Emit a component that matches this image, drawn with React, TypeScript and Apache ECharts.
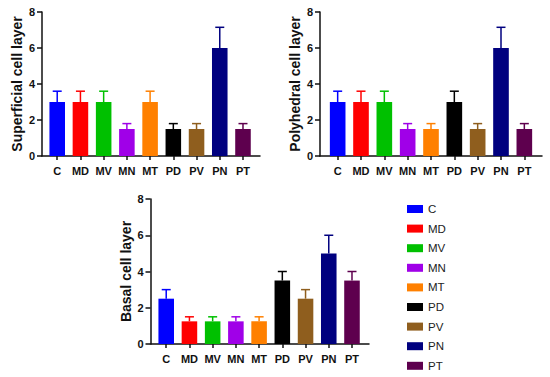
import React, { useEffect, useRef } from "react";
import * as echarts from "echarts";

const categories = ["C", "MD", "MV", "MN", "MT", "PD", "PV", "PN", "PT"];
const colors = ["#0000ff", "#ff0000", "#00c000", "#a000e8", "#ff8000", "#000000", "#8f5e1e", "#00007f", "#5e004e"];

const superficialMean = [3, 3, 3, 1.5, 3, 1.5, 1.5, 6, 1.5];
const superficialTop = [3.6, 3.6, 3.6, 1.8, 3.6, 1.8, 1.8, 7.15, 1.8];
const polyhedralMean = [3, 3, 3, 1.5, 1.5, 3, 1.5, 6, 1.5];
const polyhedralTop = [3.6, 3.6, 3.6, 1.8, 1.8, 3.6, 1.8, 7.15, 1.8];
const basalMean = [2.5, 1.25, 1.25, 1.25, 1.25, 3.5, 2.5, 5, 3.5];
const basalTop = [3.0, 1.5, 1.5, 1.5, 1.5, 4.0, 3.0, 6.0, 4.0];

const yTitles = ["Superficial cell layer", "Polyhedral cell layer", "Basal cell layer"];
const yMin = 0;
const yMax = 8;
const yInterval = 2;

const FONT = 'Arial, "Liberation Sans", Helvetica, sans-serif';

export default function App() {
  const ref = useRef<HTMLDivElement>(null);
  useEffect(() => {
    if (!ref.current) return;
    const chart = echarts.init(ref.current, null, { renderer: "svg" });

    const panels = [
      { mean: superficialMean, top: superficialTop, title: yTitles[0], axis: { left: 42, top: 12, width: 218, height: 144 }, bars: { left: 45.6, width: 209 } },
      { mean: polyhedralMean, top: polyhedralTop, title: yTitles[1], axis: { left: 320, top: 12, width: 222, height: 144 }, bars: { left: 326, width: 210 } },
      { mean: basalMean, top: basalTop, title: yTitles[2], axis: { left: 150.5, top: 199, width: 218.5, height: 145 }, bars: { left: 154.6, width: 209 } },
    ];

    const grid: any[] = [];
    const xAxis: any[] = [];
    const yAxis: any[] = [];
    const series: any[] = [];

    panels.forEach((p, k) => {
      const ga = grid.length;
      grid.push({ left: p.axis.left, top: p.axis.top, width: p.axis.width, height: p.axis.height, containLabel: false });
      xAxis.push({
        gridIndex: ga, type: "value", min: 0, max: 1,
        axisLine: { show: true, lineStyle: { color: "#111", width: 1.5 } },
        axisTick: { show: false }, axisLabel: { show: false }, splitLine: { show: false },
      });
      yAxis.push({
        gridIndex: ga, type: "value", min: yMin, max: yMax, interval: yInterval,
        name: p.title, nameLocation: "middle", nameGap: 18, nameRotate: 90,
        nameTextStyle: { fontFamily: FONT, fontWeight: "bold", fontSize: 14, color: "#111" },
        axisLine: { show: true, lineStyle: { color: "#111", width: 1.5 } },
        axisTick: { show: true, length: 5, lineStyle: { color: "#111", width: 1.5 } },
        axisLabel: { show: true, margin: 7, fontFamily: FONT, fontWeight: "bold", fontSize: 11, color: "#111" },
        splitLine: { show: false },
      });
      const gb = grid.length;
      grid.push({ left: p.bars.left, top: p.axis.top, width: p.bars.width, height: p.axis.height, containLabel: false });
      xAxis.push({
        gridIndex: gb, type: "category", data: categories,
        axisLine: { show: false },
        axisTick: { show: true, alignWithLabel: true, length: 4, lineStyle: { color: "#111", width: 1.5 } },
        axisLabel: { show: true, margin: 9, fontFamily: FONT, fontWeight: "bold", fontSize: 11, color: "#111", interval: 0 },
        splitLine: { show: false },
      });
      yAxis.push({ gridIndex: gb, type: "value", min: yMin, max: yMax, show: false });

      const axisIdx = xAxis.length - 1;
      categories.forEach((c, i) => {
        series.push({
          name: c, type: "bar", xAxisIndex: axisIdx, yAxisIndex: axisIdx,
          stack: "s" + k, barWidth: "67%",
          itemStyle: { color: colors[i] },
          data: p.mean.map((v, j) => (j === i ? v : "-")),
          z: 2,
        });
      });
      series.push({
        type: "custom", xAxisIndex: axisIdx, yAxisIndex: axisIdx, z: 3,
        data: p.mean.map((v, i) => [i, v, p.top[i]]),
        renderItem: (params: any, api: any) => {
          const i = api.value(0);
          const base = api.coord([i, api.value(1)]);
          const top = api.coord([i, api.value(2)]);
          const col = colors[i];
          const half = 4.5;
          return {
            type: "group",
            children: [
              { type: "line", shape: { x1: base[0], y1: base[1], x2: top[0], y2: top[1] }, style: { stroke: col, lineWidth: 1.5 } },
              { type: "line", shape: { x1: top[0] - half, y1: top[1], x2: top[0] + half, y2: top[1] }, style: { stroke: col, lineWidth: 1.5 } },
            ],
          };
        },
      });
    });

    chart.setOption({
      animation: false,
      backgroundColor: "#fff",
      grid, xAxis, yAxis, series,
      legend: {
        orient: "vertical", left: 402, top: 198, height: 178,
        itemWidth: 16, itemHeight: 8, itemGap: 7.6,
        icon: "rect",
        data: categories,
        textStyle: { fontFamily: FONT, fontSize: 11.5, color: "#222", lineHeight: 12 },
        selectedMode: false,
      },
    });
    return () => chart.dispose();
  }, []);
  return <div ref={ref} style={{ position: "fixed", left: 0, top: 0, width: 550, height: 377 }} />;
}
